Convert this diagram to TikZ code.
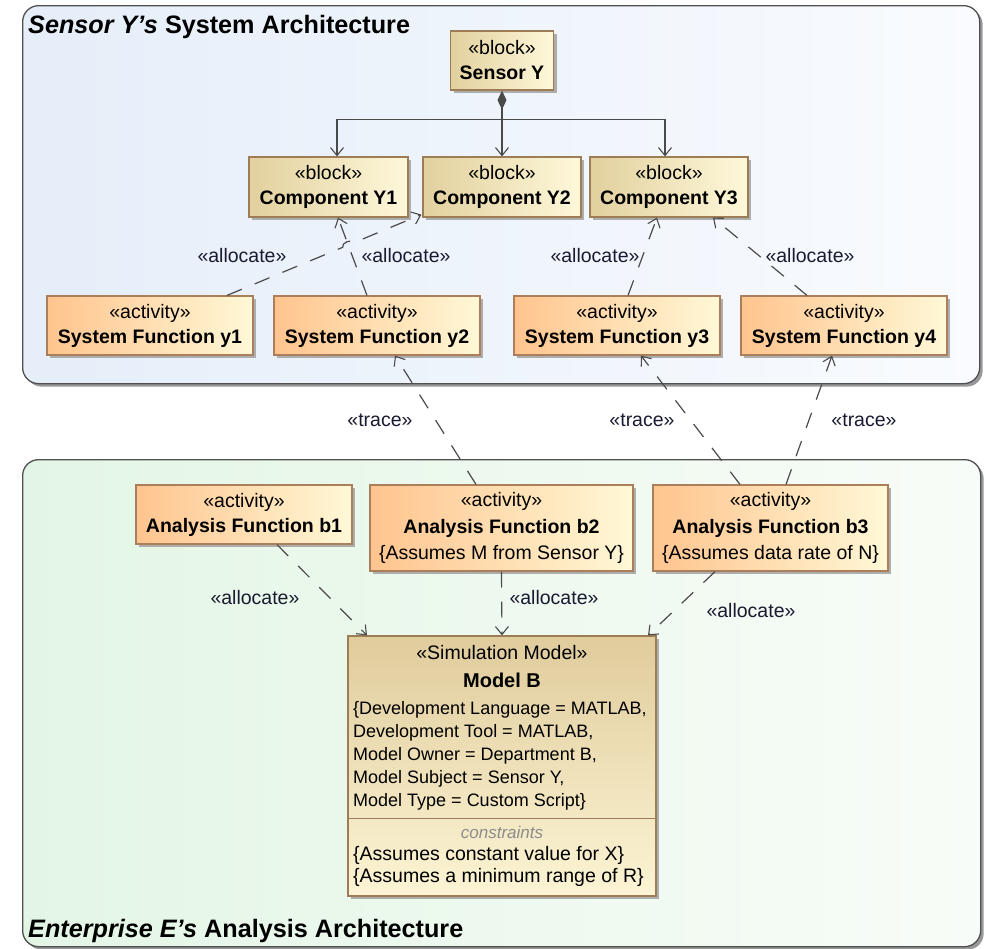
\documentclass[tikz,border=0pt]{standalone}
\usepackage{fontspec}
\setmainfont{Liberation Sans}
\usetikzlibrary{arrows.meta,calc,shadows,intersections}

% palette
\definecolor{blockL}{HTML}{E2D09E}
\definecolor{blockR}{HTML}{FEF8DA}
\definecolor{blockEdge}{HTML}{9C7D55}
\definecolor{actL}{HTML}{FFC48E}
\definecolor{actR}{HTML}{FFF8D6}
\definecolor{actEdge}{HTML}{AC7F5C}
\definecolor{modelL}{HTML}{E0CC9C}
\definecolor{modelR}{HTML}{FCF4D4}
\definecolor{sysL}{HTML}{E5EEF9}
\definecolor{sysR}{HTML}{F9FBFE}
\definecolor{anaL}{HTML}{E3F6E5}
\definecolor{anaR}{HTML}{F8FCF8}
\definecolor{frameEdge}{HTML}{505050}
\definecolor{wire}{HTML}{4A4A4A}
\definecolor{lbltext}{HTML}{1A1A30}

\newcommand{\umlfont}{\fontsize{19.5}{25}\selectfont}
\newcommand{\umlfontthree}{\fontsize{19.5}{26.5}\selectfont}

\tikzset{
  frame/.style={draw=frameEdge, line width=1.3pt, rounded corners=16pt,
    inner sep=0pt, anchor=north west,
    drop shadow={shadow xshift=3pt, shadow yshift=-3pt, fill=black!50, opacity=0.8}},
  umlbox/.style={rectangle, inner sep=0pt, align=center, font=\umlfont,
    text=black, line width=1.2pt,
    drop shadow={shadow xshift=3pt, shadow yshift=-3pt, fill=black!35, opacity=0.9}},
  block/.style={umlbox, draw=blockEdge, left color=blockL, right color=blockR},
  activity/.style={umlbox, draw=actEdge, left color=actL, right color=actR},
  simmodel/.style={umlbox, draw=blockEdge, shading=axis, shading angle=135,
    top color=modelL, bottom color=modelR},
  vtip/.tip={Straight Barb[length=8pt,width=13pt,line width=1.1pt]},
  wire/.style={draw=wire, line width=1.2pt},
  dep/.style={wire, dash pattern=on 16pt off 14pt, -vtip},
  lbl/.style={font=\umlfont, text=lbltext, inner sep=0pt},
  frametitle/.style={font=\fontsize{25.2}{29}\selectfont\bfseries, anchor=west, inner sep=0pt},
}

\begin{document}
\begin{tikzpicture}[x=1pt,y=-1pt]
\useasboundingbox (0,0) rectangle (987,948);
\fill[white] (0,0) rectangle (987,948);

% ---- frames ----
\node[frame, shading=axis, left color=sysL, right color=sysR,
      minimum width=957pt, minimum height=378pt] (sysFrame) at (22,5) {};
\node[frame, shading=axis, left color=anaL, right color=anaR,
      minimum width=958pt, minimum height=487pt] (anaFrame) at (22,459) {};
\node[frametitle] (sysTitle) at (28,27) {\textit{Sensor Y's} System Architecture};
\node[frametitle] (anaTitle) at (28,931) {\textit{Enterprise E's} Analysis Architecture};

% ---- system architecture ----
\node[block, minimum width=103pt, minimum height=59pt] (sensor) at (502,60.5) {«block»\\\textbf{Sensor Y}};
\node[block, minimum width=159pt, minimum height=60pt] (comp1) at (328.5,187) {«block»\\\textbf{Component Y1}};
\node[block, minimum width=158pt, minimum height=60pt] (comp2) at (502,187) {«block»\\\textbf{Component Y2}};
\node[block, minimum width=158pt, minimum height=60pt] (comp3) at (669,187) {«block»\\\textbf{Component Y3}};

\node[activity, minimum width=206pt, minimum height=59pt] (fy1) at (150,325.5) {«activity»\\\textbf{System Function y1}};
\node[activity, minimum width=206pt, minimum height=59pt] (fy2) at (377,325.5) {«activity»\\\textbf{System Function y2}};
\node[activity, minimum width=206pt, minimum height=59pt] (fy3) at (617,325.5) {«activity»\\\textbf{System Function y3}};
\node[activity, minimum width=206pt, minimum height=59pt] (fy4) at (844,325.5) {«activity»\\\textbf{System Function y4}};

% ---- analysis architecture ----
\node[activity, minimum width=216pt, minimum height=59pt] (fb1) at (244,514.5) {«activity»\\\textbf{Analysis Function b1}};
\node[activity, font=\umlfontthree, minimum width=263pt, minimum height=86pt] (fb2) at (501.5,528)
  {«activity»\\\textbf{Analysis Function b2}\\\{Assumes M from Sensor Y\}};
\node[activity, font=\umlfontthree, minimum width=235pt, minimum height=86pt] (fb3) at (770.5,528)
  {«activity»\\\textbf{Analysis Function b3}\\\{Assumes data rate of N\}};

\node[simmodel, minimum width=308pt, minimum height=260pt] (modelB) at (502,766) {};
\node[font=\umlfont, inner sep=0pt] (mbStereo) at (502,653) {«Simulation Model»};
\node[font=\fontsize{20}{24}\selectfont\bfseries, inner sep=0pt] (mbName) at (502,680) {Model B};
\node[anchor=north west, align=left, inner sep=0pt, font=\fontsize{18}{23}\selectfont] (mbProps) at (353,701)
  {\{Development Language = MATLAB,\\Development Tool = MATLAB,\\Model Owner = Department B,\\Model Subject = Sensor Y,\\Model Type = Custom Script\}};
\draw[draw=blockEdge, line width=1.2pt] ($(modelB.north west)+(0,183)$) coordinate (sepL)
  -- ($(modelB.north east)+(0,183)$) coordinate (sepR);
\node[font=\fontsize{17}{20}\selectfont\itshape, text=black!45, inner sep=0pt] (mbCons) at (502,832) {constraints};
\node[anchor=north west, align=left, inner sep=0pt, font=\fontsize{19.5}{22}\selectfont] (mbConsList) at (353,846)
  {\{Assumes constant value for X\}\\\{Assumes a minimum range of R\}};

% ---- composition ----
\coordinate (bus) at ($(sensor.south)+(0,29)$);
\draw[wire, {Diamond[length=19pt,width=9pt,fill=wire]}-vtip] (sensor.south) -- (comp2.north);
\draw[wire, -vtip] (bus) -| ($(comp1.north)+(8.5,0)$);
\draw[wire, -vtip] (bus) -| ($(comp3.north)+(-4,0)$);

% ---- allocations to components ----
\coordinate (a1s) at ($(fy1.north)+(77,0)$);
\coordinate (a1e) at ($(comp2.south west)+(-1,-3)$);
\coordinate (a2s) at ($(fy2.north)+(-10,0)$);
\coordinate (a2e) at ($(comp1.south)+(9.5,0)$);
\path[name path=pathA] (a1s) -- (a1e);
\path[name path=pathB] (a2s) -- (a2e);
\path[name intersections={of=pathA and pathB, by=hop}];
\draw[dep] (a1s) -- ($(hop)!6pt!(a1s)$) to[bend left=90] ($(hop)!6pt!(a1e)$) -- (a1e);
\draw[dep] (a2s) -- (a2e);
\draw[dep] ($(fy3.north)+(11,0)$) coordinate (a3s) -- ($(comp3.south)+(-12,0)$);
\draw[dep] ($(fy4.north)+(-37,0)$) coordinate (a4s) -- ($(comp3.south)+(44,0)$);

\node[lbl] (lA1) at (242,256) {«allocate»};
\node[lbl] (lA2) at (406,256) {«allocate»};
\node[lbl] (lA3) at (595,256) {«allocate»};
\node[lbl] (lA4) at (810,256) {«allocate»};

% ---- traces ----
\draw[dep] ($(fb2.north)+(-25.5,0)$) coordinate (t1s) -- ($(fy2.south)+(18,0)$);
\draw[dep] ($(fb3.north)+(-30.5,0)$) coordinate (t2s) -- ($(fy3.south)+(24,0)$);
\draw[dep] ($(fb3.north)+(15.5,0)$) coordinate (t3s) -- ($(fy4.south)+(-12,0)$);

\node[lbl] (lT1) at (380,420) {«trace»};
\node[lbl] (lT2) at (642,420) {«trace»};
\node[lbl] (lT3) at (864,420) {«trace»};

% ---- allocations to the model ----
\draw[dep] ($(fb1.south)+(33,0)$) coordinate (m1s) -- ($(modelB.north)+(-135,0)$);
\draw[dep] (fb2.south) -- (modelB.north);
\draw[dep] ($(fb3.south)+(-55.5,0)$) coordinate (m3s) -- ($(modelB.north)+(146,0)$);

\node[lbl] (lM1) at (255,598) {«allocate»};
\node[lbl] (lM2) at (554,598) {«allocate»};
\node[lbl] (lM3) at (751,611) {«allocate»};
\end{tikzpicture}
\end{document}
